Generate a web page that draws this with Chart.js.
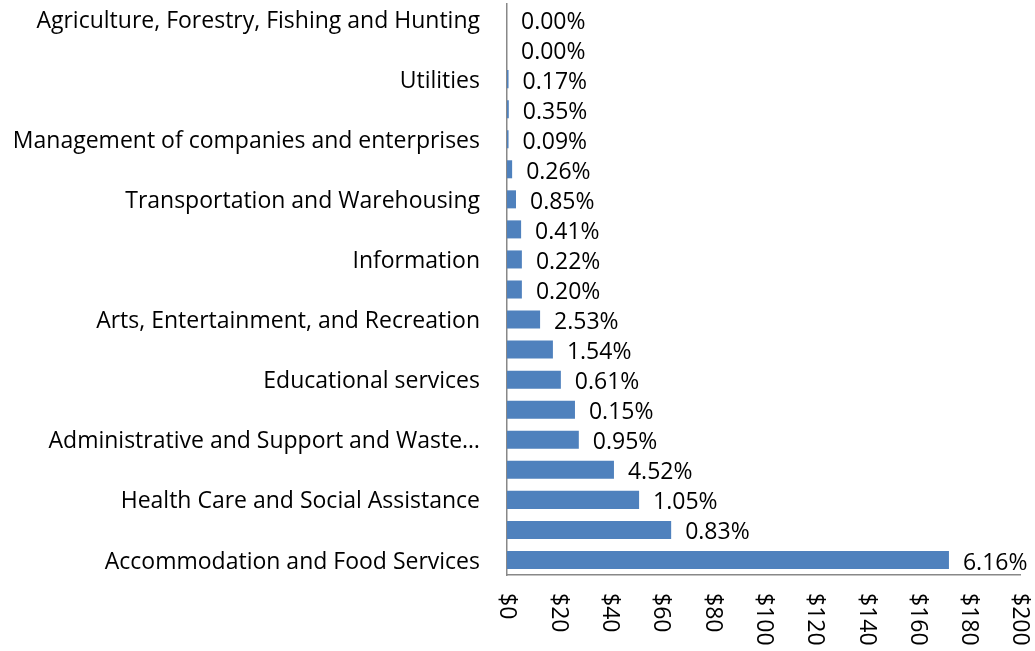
<!DOCTYPE html>
<html>
<head>
<meta charset="utf-8">
<script src="https://cdn.jsdelivr.net/npm/chart.js@4/dist/chart.umd.min.js"></script>
<style>
  html, body { margin: 0; padding: 0; background: #fff; }
  #wrap { width: 1035px; height: 651px; }
</style>
</head>
<body>
<div id="wrap"><canvas id="mychart" width="1035" height="651"></canvas></div>
<script>
// categories, top to bottom (only every other one is labelled in the original)
var categories = [
  'Agriculture, Forestry, Fishing and Hunting', '',
  'Utilities', '',
  'Management of companies and enterprises', '',
  'Transportation and Warehousing', '',
  'Information', '',
  'Arts, Entertainment, and Recreation', '',
  'Educational services', '',
  'Administrative and Support and Waste\u2026', '',
  'Health Care and Social Assistance', '',
  'Accommodation and Food Services'
];
var amounts = [0, 0, 0.6, 0.7, 0.6, 2, 3.5, 5.5, 5.8, 5.8, 12.9, 17.9, 21, 26.5, 28, 41.7, 51.5, 64, 172.3];
var pctLabels = ['0.00%', '0.00%', '0.17%', '0.35%', '0.09%', '0.26%', '0.85%', '0.41%', '0.22%', '0.20%',
                 '2.53%', '1.54%', '0.61%', '0.15%', '0.95%', '4.52%', '1.05%', '0.83%', '6.16%'];
var xTicks = [0, 20, 40, 60, 80, 100, 120, 140, 160, 180, 200];

var FONT = '"Open Sans", sans-serif';
var FSIZE = 23;

// percent text at the end of each bar
var barLabels = {
  id: 'barLabels',
  afterDatasetsDraw: function(chart) {
    var ctx = chart.ctx;
    var meta = chart.getDatasetMeta(0);
    ctx.save();
    ctx.font = FSIZE + 'px ' + FONT;
    ctx.fillStyle = '#000';
    ctx.textAlign = 'left';
    ctx.textBaseline = 'middle';
    meta.data.forEach(function(bar, i) {
      ctx.fillText(pctLabels[i], bar.x + 14, bar.y + 3);
    });
    ctx.restore();
  }
};

// x tick labels turned clockwise, like the original
var xLabels = {
  id: 'xLabels',
  afterDraw: function(chart) {
    var ctx = chart.ctx;
    var xs = chart.scales.x;
    ctx.save();
    ctx.font = FSIZE + 'px ' + FONT;
    ctx.fillStyle = '#000';
    ctx.textAlign = 'left';
    ctx.textBaseline = 'middle';
    xTicks.forEach(function(v) {
      ctx.save();
      ctx.translate(xs.getPixelForValue(v), xs.top + 18);
      ctx.rotate(Math.PI / 2);
      ctx.fillText('$' + v, 0, 0);
      ctx.restore();
    });
    ctx.restore();
  }
};

const config = {
  type: 'bar',
  plugins: [barLabels, xLabels],
  data: {
    labels: categories,
    datasets: [{
      data: amounts,
      backgroundColor: '#4F81BD',
      borderWidth: 0,
      barPercentage: 0.6,
      categoryPercentage: 1
    }]
  },
  options: {
    indexAxis: 'y',
    responsive: false,
    animation: false,
    layout: { padding: { top: 4, right: 15, left: 0, bottom: 0 } },
    plugins: {
      legend: { display: false },
      tooltip: { enabled: false }
    },
    scales: {
      x: {
        min: 0,
        max: 200,
        ticks: { display: false, stepSize: 20 },
        grid: { display: false, drawTicks: false },
        border: { display: true, color: '#888', width: 1.5 },
        afterFit: function(s) { s.height = 76; s.paddingLeft = 0; s.paddingRight = 0; }
      },
      y: {
        ticks: {
          autoSkip: false,
          color: '#000',
          padding: 27,
          labelOffset: 2,
          font: { family: FONT, size: FSIZE }
        },
        grid: { display: false, drawTicks: false },
        border: { display: true, color: '#888', width: 1.5 },
        afterFit: function(s) { s.width = 507; s.paddingTop = 0; s.paddingBottom = 0; }
      }
    }
  }
};

new Chart(document.getElementById('mychart').getContext('2d'), config);
</script>
</body>
</html>
